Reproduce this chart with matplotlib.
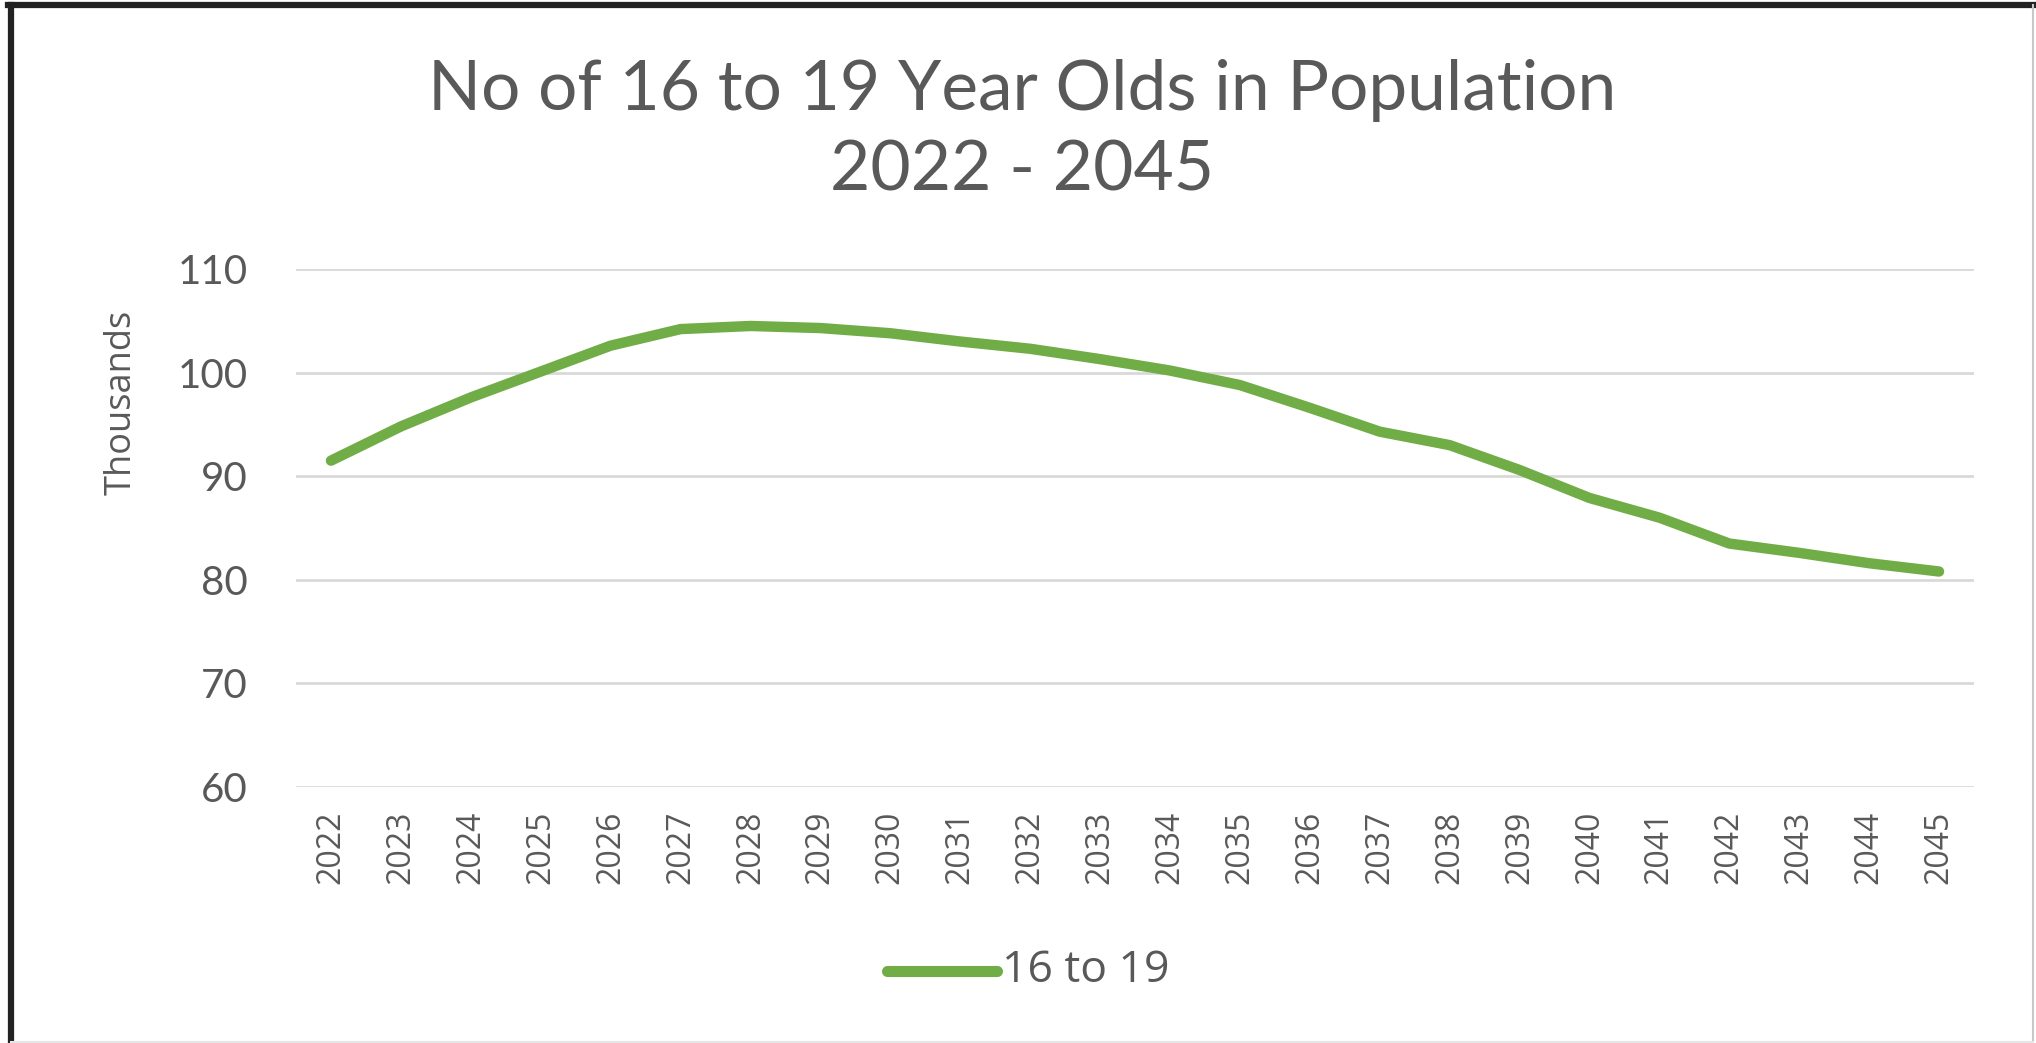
import matplotlib.pyplot as plt
from matplotlib.lines import Line2D

years = [str(y) for y in range(2022, 2046)]
age_16_19 = [91.5, 94.8, 97.6, 100.1, 102.6, 104.2, 104.5, 104.3, 103.8, 103.0,
             102.3, 101.3, 100.2, 98.8, 96.6, 94.3, 93.0, 90.6, 87.9, 86.0,
             83.5, 82.6, 81.6, 80.8]
y_ticks = [60, 70, 80, 90, 100, 110]

green = '#70ad47'
grey_text = '#595959'
W, H = 2036, 1043

fig = plt.figure(figsize=(W / 100, H / 100), dpi=100)
ax = fig.add_axes([296 / W, 1 - 787 / H, (1974 - 296) / W, (787 - 269) / H])

x = list(range(len(years)))
ax.plot(x, age_16_19, color=green, lw=7.5, solid_capstyle='round', solid_joinstyle='round', zorder=3)

ax.set_xlim(-0.5, len(years) - 0.5)
ax.set_ylim(60, 110)
ax.set_yticks(y_ticks)
ax.set_xticks(x)
ax.set_xticklabels(years, rotation=90, fontsize=23, color=grey_text, family='Open Sans')
ax.set_yticklabels([str(v) for v in y_ticks], fontsize=29, color=grey_text, family='Lato')
ax.tick_params(axis='both', length=0)
ax.tick_params(axis='y', pad=35)
ax.tick_params(axis='x', pad=17)
ax.grid(axis='y', color='#d9d9d9', lw=2)
ax.set_axisbelow(True)
for s in ax.spines.values():
    s.set_visible(False)

ax.set_ylabel('Thousands', fontsize=26, color=grey_text, family='Open Sans')
ax.yaxis.set_label_coords(-0.093, 0.743)

fig.text(0.502, 0.913, 'No of 16 to 19 Year Olds in Population', ha='center', va='center',
         fontsize=50, color=grey_text, family='Lato')
fig.text(0.502, 0.836, '2022 - 2045', ha='center', va='center',
         fontsize=50, color=grey_text, family='Lato')

# legend entry under the axis
fig.add_artist(Line2D([887 / W, 997 / W], [1 - 971 / H] * 2, color=green, lw=8,
                      solid_capstyle='round'))
fig.text(1002 / W, 1 - 971 / H, '16 to 19', ha='left', va='center',
         fontsize=32, color=grey_text, family='Open Sans')

# outer frame
fig.add_artist(Line2D([11 / W, 11 / W], [0, 1 - 5 / H], color='#222222', lw=4.5))
fig.add_artist(Line2D([8 / W, 1], [1 - 5 / H, 1 - 5 / H], color='#222222', lw=4.5))
fig.add_artist(Line2D([2033 / W, 2033 / W], [0, 1 - 5 / H], color='#c8c8c8', lw=1.5))
fig.add_artist(Line2D([11 / W, 2033 / W], [1 / H, 1 / H], color='#e6e6e6', lw=1.5))

fig.savefig('out.png', dpi=100, facecolor='white')
